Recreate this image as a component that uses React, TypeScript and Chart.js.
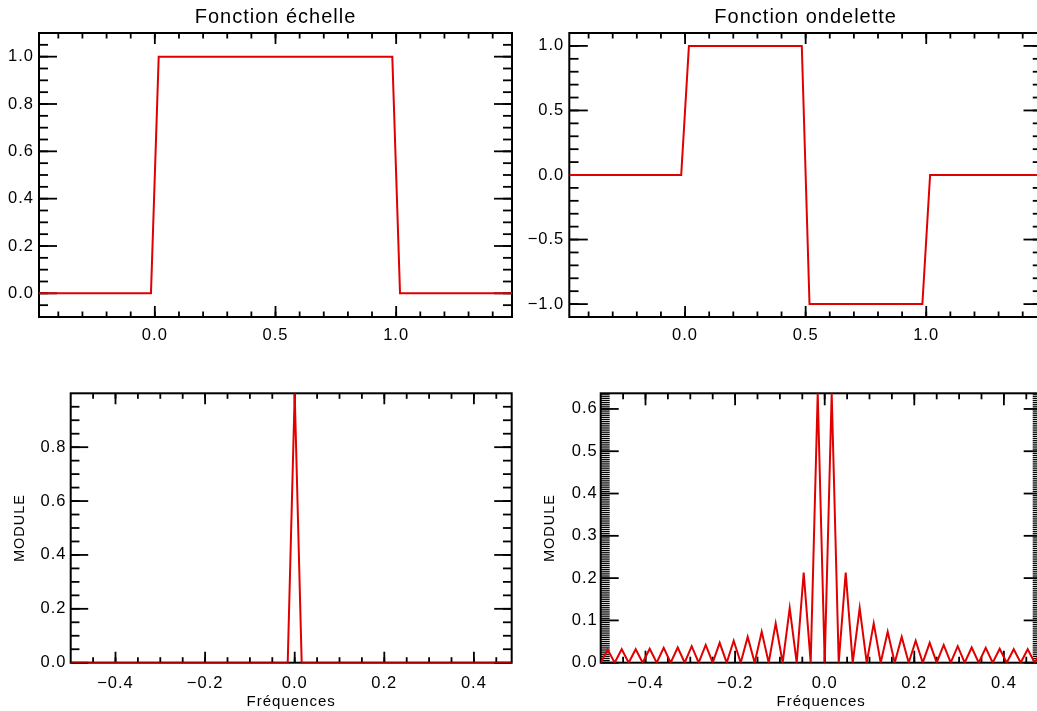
import React, { useEffect, useRef } from 'react';
import { Chart, registerables } from 'chart.js';

Chart.register(...registerables);

// ---------- Data ----------
const timeScaleX = [-0.48, -0.016, 0.016, 0.984, 1.016, 1.48];
const scaleFunctionY = [0, 0, 1, 1, 0, 0];

const timeWaveletX = [-0.48, -0.016, 0.016, 0.484, 0.516, 0.984, 1.016, 1.48];
const waveletFunctionY = [0, 0, 1, 1, -1, -1, 0, 0];

const frequencies = [
  -0.5, -0.4844, -0.4688, -0.4531, -0.4375, -0.4219, -0.4063, -0.3906,
  -0.375, -0.3594, -0.3438, -0.3281, -0.3125, -0.2969, -0.2813, -0.2656,
  -0.25, -0.2344, -0.2188, -0.2031, -0.1875, -0.1719, -0.1563, -0.1406,
  -0.125, -0.1094, -0.0938, -0.0781, -0.0625, -0.0469, -0.0313, -0.0156,
  0, 0.0156, 0.0313, 0.0469, 0.0625, 0.0781, 0.0938, 0.1094,
  0.125, 0.1406, 0.1563, 0.1719, 0.1875, 0.2031, 0.2188, 0.2344,
  0.25, 0.2656, 0.2813, 0.2969, 0.3125, 0.3281, 0.3438, 0.3594,
  0.375, 0.3906, 0.4063, 0.4219, 0.4375, 0.4531, 0.4688, 0.4844,
];

const scaleModule = [
  0, 0, 0, 0, 0, 0, 0, 0,
  0, 0, 0, 0, 0, 0, 0, 0,
  0, 0, 0, 0, 0, 0, 0, 0,
  0, 0, 0, 0, 0, 0, 0, 0,
  1, 0, 0, 0, 0, 0, 0, 0,
  0, 0, 0, 0, 0, 0, 0, 0,
  0, 0, 0, 0, 0, 0, 0, 0,
  0, 0, 0, 0, 0, 0, 0, 0,
];

const waveletModule = [
  0, 0.031, 0, 0.032, 0, 0.032, 0, 0.033,
  0, 0.035, 0, 0.036, 0, 0.039, 0, 0.042,
  0, 0.047, 0, 0.052, 0, 0.061, 0, 0.073,
  0, 0.093, 0, 0.129, 0, 0.213, 0, 0.637,
  0, 0.637, 0, 0.213, 0, 0.129, 0, 0.093,
  0, 0.073, 0, 0.061, 0, 0.052, 0, 0.047,
  0, 0.042, 0, 0.039, 0, 0.036, 0, 0.035,
  0, 0.033, 0, 0.032, 0, 0.032, 0, 0.031,
];

const timeTickValues = [0, 0.5, 1.0];
const freqTickValues = [-0.4, -0.2, 0, 0.2, 0.4];
const scaleYTickValues = [0, 0.2, 0.4, 0.6, 0.8, 1.0];
const waveletYTickValues = [-1, -0.5, 0, 0.5, 1];
const scaleModuleTickValues = [0, 0.2, 0.4, 0.6, 0.8];
const waveletModuleTickValues = [0, 0.1, 0.2, 0.3, 0.4, 0.5, 0.6];

// ---------- Styling ----------
const FONT = '"Liberation Sans", Arial, sans-serif';
const RED = 'rgb(224,0,0)';

function steps(start: number, end: number, step: number): number[] {
  const out: number[] = [];
  const n = Math.round((end - start) / step);
  for (let i = 0; i <= n; i++) out.push(+(start + i * step).toFixed(6));
  return out;
}

const fmt = (v: number) => {
  const s = Number(v).toFixed(1);
  return s.startsWith('-') ? '\u2212' + s.slice(1) : s;
};

type Panel = {
  key: string;
  left: number; top: number; width: number; height: number;
  area: { left: number; right: number; top: number; bottom: number };
  xs: number[]; ys: number[];
  xMin: number; xMax: number; yMin: number; yMax: number;
  xLabels: number[]; yLabels: number[];
  xMinor: number[]; yMinor: number[];
  xTickLen: number; yTickLen: number;
  yMinorWidth?: number;
  title?: string; xTitle?: string; yTitle?: string;
  xLabelPad: number; yLabelPad: number; yTitleOffset?: number;
};

const panels: Panel[] = [
  {
    key: 'tl', left: 0, top: 0, width: 520, height: 360,
    area: { left: 39, right: 512, top: 33, bottom: 317 },
    xs: timeScaleX, ys: scaleFunctionY,
    xMin: -0.48, xMax: 1.48, yMin: -0.1, yMax: 1.1,
    xLabels: timeTickValues, yLabels: scaleYTickValues,
    xMinor: steps(-0.4, 1.4, 0.1), yMinor: steps(-0.05, 1.05, 0.05),
    xTickLen: 11, yTickLen: 18,
    title: 'Fonction échelle', xLabelPad: 9, yLabelPad: 5,
  },
  {
    key: 'tr', left: 520, top: 0, width: 530, height: 360,
    area: { left: 569.3, right: 1042, top: 33, bottom: 317 },
    xs: timeWaveletX, ys: waveletFunctionY,
    xMin: -0.48, xMax: 1.48, yMin: -1.1, yMax: 1.1,
    xLabels: timeTickValues, yLabels: waveletYTickValues,
    xMinor: steps(-0.4, 1.4, 0.1), yMinor: steps(-1.0, 1.0, 0.1),
    xTickLen: 11, yTickLen: 18.5,
    title: 'Fonction ondelette', xLabelPad: 9, yLabelPad: 5,
  },
  {
    key: 'bl', left: 0, top: 360, width: 520, height: 351,
    area: { left: 70.7, right: 511.7, top: 393.3, bottom: 662.7 },
    xs: frequencies, ys: scaleModule,
    xMin: -0.5, xMax: 0.484375, yMin: 0, yMax: 1.0,
    xLabels: freqTickValues, yLabels: scaleModuleTickValues,
    xMinor: steps(-0.45, 0.45, 0.05), yMinor: steps(0.05, 0.95, 0.05),
    xTickLen: 11, yTickLen: 17.5,
    xTitle: 'Fréquences', yTitle: 'MODULE', xLabelPad: 10.5, yLabelPad: 4.2, yTitleOffset: 11.3,
  },
  {
    key: 'br', left: 520, top: 360, width: 530, height: 351,
    area: { left: 600.7, right: 1041.7, top: 393.3, bottom: 662.7 },
    xs: frequencies, ys: waveletModule,
    xMin: -0.5, xMax: 0.484375, yMin: 0, yMax: 0.637,
    xLabels: freqTickValues, yLabels: waveletModuleTickValues,
    xMinor: steps(-0.45, 0.45, 0.05), yMinor: steps(0.005, 0.635, 0.005),
    xTickLen: 12, yTickLen: 18, yMinorWidth: 1.3,
    xTitle: 'Fréquences', yTitle: 'MODULE', xLabelPad: 10.5, yLabelPad: 3, yTitleOffset: 21.3,
  },
];

const framePlugin = {
  id: 'frame',
  beforeDraw(chart: any) {
    chart.ctx.letterSpacing = '1px';
  },
  beforeDatasetsDraw(chart: any, _args: any, opts: any) {
    const p: Panel = opts.panel;
    if (!p) return;
    const { ctx, chartArea: a } = chart;
    const x = chart.scales.x;
    const y = chart.scales.y;
    ctx.save();
    ctx.strokeStyle = '#000';
    ctx.lineCap = 'butt';
    const line = (x1: number, y1: number, x2: number, y2: number) => {
      ctx.beginPath();
      ctx.moveTo(x1, y1);
      ctx.lineTo(x2, y2);
      ctx.stroke();
    };
    ctx.lineWidth = 1.8;
    p.xMinor.forEach((v) => {
      const px = x.getPixelForValue(v);
      const len = p.xTickLen / 2;
      line(px, a.bottom, px, a.bottom - len);
      line(px, a.top, px, a.top + len);
    });
    p.xLabels.forEach((v) => {
      const px = x.getPixelForValue(v);
      line(px, a.bottom, px, a.bottom - p.xTickLen);
      line(px, a.top, px, a.top + p.xTickLen);
    });
    ctx.lineWidth = p.yMinorWidth || 1.8;
    p.yMinor.forEach((v) => {
      const py = y.getPixelForValue(v);
      const len = p.yTickLen / 2;
      line(a.left, py, a.left + len, py);
      line(a.right, py, a.right - len, py);
    });
    ctx.lineWidth = 1.8;
    p.yLabels.forEach((v) => {
      const py = y.getPixelForValue(v);
      line(a.left, py, a.left + p.yTickLen, py);
      line(a.right, py, a.right - p.yTickLen, py);
    });
    ctx.lineWidth = 2;
    ctx.strokeRect(a.left, a.top, a.right - a.left, a.bottom - a.top);
    ctx.restore();
  },
};

function makeChart(canvas: HTMLCanvasElement, p: Panel) {
  const yAxisWidth = p.area.left - p.left;
  const xAxisHeight = p.top + p.height - p.area.bottom;
  const topSpace = p.area.top - p.top;
  const padRight = p.left + p.width - p.area.right;
  const titleSize = 20;
  const titleLine = titleSize * 1.2;
  const titlePadTop = 17.5 - titleLine / 2;
  const tickFont = { family: FONT, size: 16.5 };
  const axisTitleFont = { family: FONT, size: 15 };
  const yTitleFont = { family: FONT, size: 14.5 };

  return new Chart(canvas, {
    type: 'line',
    data: {
      datasets: [
        {
          data: p.xs.map((xv, i) => ({ x: xv, y: p.ys[i] })),
          borderColor: RED,
          borderWidth: 2,
          pointRadius: 0,
          tension: 0,
          fill: false,
        },
      ],
    },
    options: {
      animation: false,
      responsive: false,
      maintainAspectRatio: false,
      events: [],
      layout: {
        padding: { left: 0, right: padRight, top: p.title ? 0 : topSpace, bottom: 0 },
      },
      plugins: {
        legend: { display: false },
        tooltip: { enabled: false },
        title: p.title
          ? {
              display: true,
              text: p.title,
              fullSize: false,
              color: '#000',
              font: { family: FONT, size: titleSize, weight: 'normal' },
              padding: { top: titlePadTop, bottom: topSpace - titlePadTop - titleLine },
            }
          : { display: false },
        frame: { panel: p },
      } as any,
      scales: {
        x: {
          type: 'linear',
          min: p.xMin,
          max: p.xMax,
          grid: { display: false, drawTicks: false, tickLength: 0 },
          border: { display: false },
          ticks: {
            autoSkip: false,
            maxRotation: 0,
            minRotation: 0,
            padding: p.xLabelPad,
            color: '#000',
            font: tickFont,
            callback: (v: any) => fmt(v),
          },
          title: p.xTitle
            ? { display: true, text: p.xTitle, color: '#000', font: axisTitleFont, padding: { top: 0, bottom: 0 } }
            : { display: false },
          afterBuildTicks: (s: any) => {
            s.ticks = p.xLabels.map((v) => ({ value: v }));
          },
          afterFit: (s: any) => {
            s.height = xAxisHeight;
          },
        },
        y: {
          type: 'linear',
          min: p.yMin,
          max: p.yMax,
          grid: { display: false, drawTicks: false, tickLength: 0 },
          border: { display: false },
          ticks: {
            autoSkip: false,
            padding: p.yLabelPad,
            color: '#000',
            font: tickFont,
            callback: (v: any) => fmt(v),
          },
          title: p.yTitle
            ? {
                display: true,
                text: p.yTitle,
                color: '#000',
                font: yTitleFont,
                padding: { top: p.yTitleOffset || 0, bottom: 0 },
              }
            : { display: false },
          afterBuildTicks: (s: any) => {
            s.ticks = p.yLabels.map((v) => ({ value: v }));
          },
          afterFit: (s: any) => {
            s.width = yAxisWidth;
          },
        },
      },
    } as any,
    plugins: [framePlugin as any],
  });
}

function PanelCanvas({ p }: { p: Panel }) {
  const ref = useRef<HTMLCanvasElement | null>(null);
  useEffect(() => {
    if (!ref.current) return;
    const chart = makeChart(ref.current, p);
    return () => chart.destroy();
  }, [p]);
  return (
    <canvas
      ref={ref}
      width={p.width}
      height={p.height}
      style={{ position: 'absolute', left: p.left, top: p.top, width: p.width, height: p.height }}
    />
  );
}

export default function App() {
  return (
    <div
      style={{
        position: 'fixed',
        left: 0,
        top: 0,
        width: 1037,
        height: 711,
        overflow: 'hidden',
        background: '#fff',
      }}
    >
      {panels.map((p) => (
        <PanelCanvas key={p.key} p={p} />
      ))}
    </div>
  );
}
